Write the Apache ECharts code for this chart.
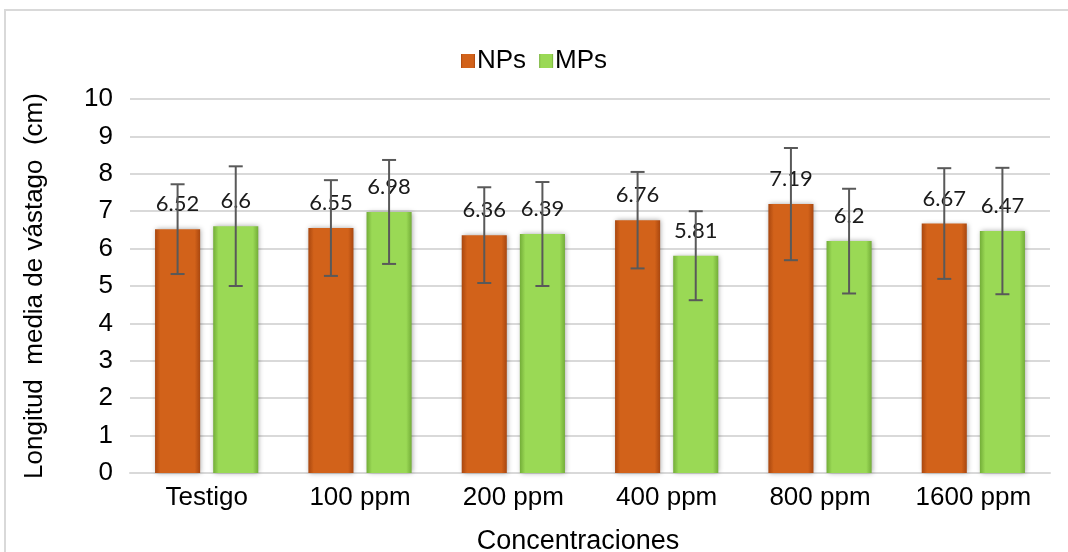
<!DOCTYPE html>
<html>
<head>
<meta charset="utf-8">
<script src="https://cdn.jsdelivr.net/npm/echarts@6/dist/echarts.min.js"></script>
<style>html,body{margin:0;padding:0;background:#fff}#c{width:1068px;height:552px}</style>
</head>
<body>
<div id="c"></div>
<script>
const categories = ['Testigo', '100 ppm', '200 ppm', '400 ppm', '800 ppm', '1600 ppm'];
const npsValues = [6.52, 6.55, 6.36, 6.76, 7.19, 6.67];
const mpsValues = [6.6, 6.98, 6.39, 5.81, 6.2, 6.47];
const npsErr = [1.2, 1.28, 1.28, 1.29, 1.5, 1.48];
const mpsErr = [1.6, 1.39, 1.39, 1.19, 1.4, 1.69];
const yTicks = [0, 1, 2, 3, 4, 5, 6, 7, 8, 9, 10];

const BAR_W = 0.294;   // fraction of category band
const BAR_GAP = 0.29;  // fraction of bar width
const chart = echarts.init(document.getElementById('c'));

function grad(edge, mid) {
  return new echarts.graphic.LinearGradient(0, 0, 1, 0, [
    {offset: 0, color: edge}, {offset: 0.12, color: mid},
    {offset: 0.88, color: mid}, {offset: 1, color: edge}
  ]);
}

function errSeries(vals, errs, sign) {
  return {
    type: 'custom',
    z: 10,
    silent: true,
    data: vals.map((v, i) => [i, v, errs[i]]),
    renderItem: function (params, api) {
      const i = api.value(0), v = api.value(1), e = api.value(2);
      const band = api.size([1, 0])[0];
      const off = sign * band * BAR_W * (1 + BAR_GAP) / 2;
      const hi = api.coord([i, v + e]);
      const lo = api.coord([i, v - e]);
      const x = hi[0] + off;
      const cap = 7;
      const st = {stroke: '#595959', lineWidth: 2};
      return {type: 'group', children: [
        {type: 'line', shape: {x1: x, y1: hi[1], x2: x, y2: lo[1]}, style: st},
        {type: 'line', shape: {x1: x - cap, y1: hi[1], x2: x + cap, y2: hi[1]}, style: st},
        {type: 'line', shape: {x1: x - cap, y1: lo[1], x2: x + cap, y2: lo[1]}, style: st}
      ]};
    }
  };
}

const labelStyle = {show: true, position: 'top', distance: 14, fontSize: 22, fontFamily: 'Lato', color: '#1a1a1a'};
const axisFont = {fontFamily: 'Liberation Sans', fontSize: 26, color: '#000'};

chart.setOption({
  animation: false,
  graphic: [{type: 'rect', shape: {x: 5, y: 10, width: 1080, height: 560}, style: {fill: 'none', stroke: '#D9D9D9', lineWidth: 2}, z: -1}],
  legend: {
    top: 43, left: 456,
    itemWidth: 14, itemHeight: 14, itemGap: 13,
    icon: 'rect',
    textStyle: {fontFamily: 'Liberation Sans', fontSize: 26, color: '#000', padding: [0, 0, 0, -3]},
    data: ['NPs', 'MPs']
  },
  grid: {left: 130, right: 18, top: 99, bottom: 79, containLabel: false, outerBoundsMode: 'none'},
  xAxis: {
    type: 'category', data: categories,
    axisLine: {lineStyle: {color: '#D9D9D9', width: 2}},
    axisTick: {show: false},
    axisLabel: Object.assign({margin: 12}, axisFont),
    name: 'Concentraciones', nameLocation: 'middle', nameGap: 55,
    nameTextStyle: Object.assign({}, axisFont, {fontSize: 27, padding: [0, 24, 0, 0]})
  },
  yAxis: {
    type: 'value', min: yTicks[0], max: yTicks[yTicks.length - 1], interval: 1,
    axisLine: {show: false}, axisTick: {show: false},
    splitLine: {lineStyle: {color: '#D9D9D9', width: 2}},
    axisLabel: Object.assign({margin: 17}, axisFont),
    name: 'Longitud  media de vástago  (cm)', nameLocation: 'middle', nameGap: 82,
    nameTextStyle: axisFont
  },
  series: [
    {
      name: 'NPs', type: 'bar', data: npsValues,
      barWidth: (BAR_W * 100) + '%', barGap: (BAR_GAP * 100) + '%',
      itemStyle: {color: grad('#A9470F', '#D2621A'), shadowBlur: 5, shadowColor: 'rgba(0,0,0,0.35)', shadowOffsetX: 1},
      label: labelStyle
    },
    {
      name: 'MPs', type: 'bar', data: mpsValues,
      barWidth: (BAR_W * 100) + '%', barGap: (BAR_GAP * 100) + '%',
      itemStyle: {color: grad('#73AD38', '#9AD955'), shadowBlur: 5, shadowColor: 'rgba(0,0,0,0.35)', shadowOffsetX: 1},
      label: labelStyle
    },
    errSeries(npsValues, npsErr, -1),
    errSeries(mpsValues, mpsErr, 1)
  ]
});
</script>
</body>
</html>
